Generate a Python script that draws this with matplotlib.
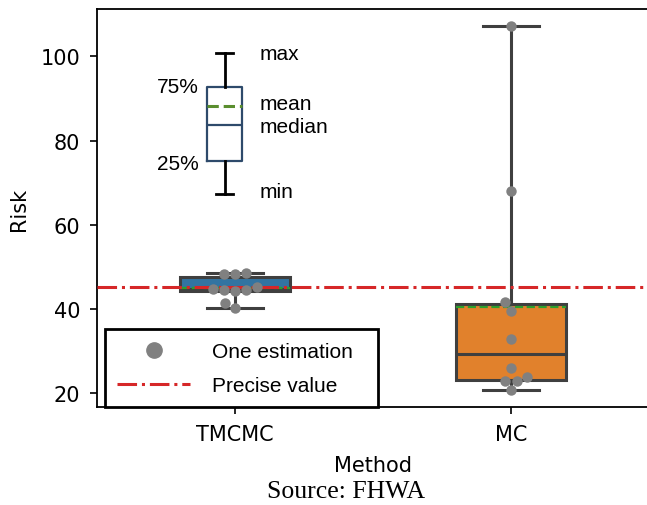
import numpy as np
import pandas as pd
import matplotlib
matplotlib.use("Agg")
import matplotlib.pyplot as plt
import seaborn as sns
from matplotlib.lines import Line2D

# Values
methods = ["TMCMC", "MC"]
tmcmc_risk = [48.3, 48.4, 48.5, 45.1, 44.3, 44.4, 44.6, 44.8, 41.3, 40.2]
mc_risk = [107.2, 68.0, 41.6, 39.6, 32.8, 25.9, 22.9, 22.9, 23.7, 20.8]
precise_value = 45.3
box_colors = ["#3274A1", "#E1812C"]

# Explanatory box (key) values
key_stats = {"whislo": 67.2, "q1": 75.1, "med": 83.8, "mean": 88.2,
             "q3": 92.7, "whishi": 100.8, "fliers": []}
key_labels_right = [("max", 100.8), ("mean", 88.7), ("median", 83.3), ("min", 68.0)]
key_labels_left = [("75%", 92.8), ("25%", 74.5)]

df = pd.DataFrame({
    "Method": ["TMCMC"] * len(tmcmc_risk) + ["MC"] * len(mc_risk),
    "Risk": tmcmc_risk + mc_risk,
})

plt.rcParams["font.size"] = 15
fig = plt.figure(figsize=(6.47, 5.06), dpi=100)
ax = fig.add_axes([0.1499, 0.1927, 0.8532, 0.7885])

line_c = "#3f3f3f"
bp = ax.boxplot([tmcmc_risk, mc_risk], positions=[0, 1], widths=0.4,
                whis=(0, 100), patch_artist=True, showmeans=True, meanline=True,
                showfliers=False,
                boxprops=dict(edgecolor=line_c, linewidth=2.2),
                whiskerprops=dict(color=line_c, linewidth=2.2),
                capprops=dict(color=line_c, linewidth=2.2),
                medianprops=dict(color=line_c, linewidth=2.2),
                meanprops=dict(color="#2ca02c", linestyle="--", linewidth=1.6))
for patch, c in zip(bp["boxes"], box_colors):
    patch.set_facecolor(c)

ax.axhline(precise_value, color="#d62728", linestyle="-.", linewidth=2.2, zorder=3)

sns.swarmplot(data=df, x="Method", y="Risk", order=methods, color="gray",
              size=7.5, ax=ax, zorder=5)

# key box
kb = ax.bxp([key_stats], positions=[-0.038], widths=0.127, showmeans=True,
            meanline=True, showfliers=False,
            boxprops=dict(color="#2e4a6b", linewidth=1.6),
            whiskerprops=dict(color="black", linewidth=2),
            capprops=dict(color="black", linewidth=2),
            medianprops=dict(color="#2e4a6b", linewidth=1.6),
            meanprops=dict(color="#5a8e2e", linestyle="--", linewidth=2.2))
for txt, yv in key_labels_right:
    ax.text(0.09, yv, txt, ha="left", va="center", fontsize=15,
            family="Liberation Sans")
for txt, yv in key_labels_left:
    ax.text(-0.13, yv, txt, ha="right", va="center", fontsize=15,
            family="Liberation Sans")

ax.set_xlim(-0.5, 1.5)
ax.set_ylim(16.55, 111.4)
ax.set_xticks([0, 1])
ax.set_xticklabels(methods)
ax.set_yticks([20, 40, 60, 80, 100])
ax.tick_params(length=5, width=1.2, pad=7)
for s in ax.spines.values():
    s.set_linewidth(1.3)
ax.set_xlabel("Method", labelpad=8)
ax.set_ylabel("Risk", labelpad=8)

handles = [
    Line2D([], [], marker="o", color="gray", linestyle="none", markersize=11),
    Line2D([], [], color="#d62728", linestyle="-.", linewidth=2.2),
]
leg = ax.legend(handles, ["One estimation", "Precise value"],
                loc="lower left", bbox_to_anchor=(0.0145, 0.0, 0.495, 0.192),
                mode="expand", fancybox=False, framealpha=1, edgecolor="black",
                prop={"family": "Liberation Sans", "size": 15},
                handlelength=3.5, borderaxespad=0, handletextpad=1.05,
                borderpad=0.6, labelspacing=0.72)
leg.get_frame().set_linewidth(2)

fig.text(0.535, 0.028, "Source: FHWA", ha="center", va="center",
         family="Liberation Serif", fontsize=18.5)

fig.savefig("out.png", dpi=100)
